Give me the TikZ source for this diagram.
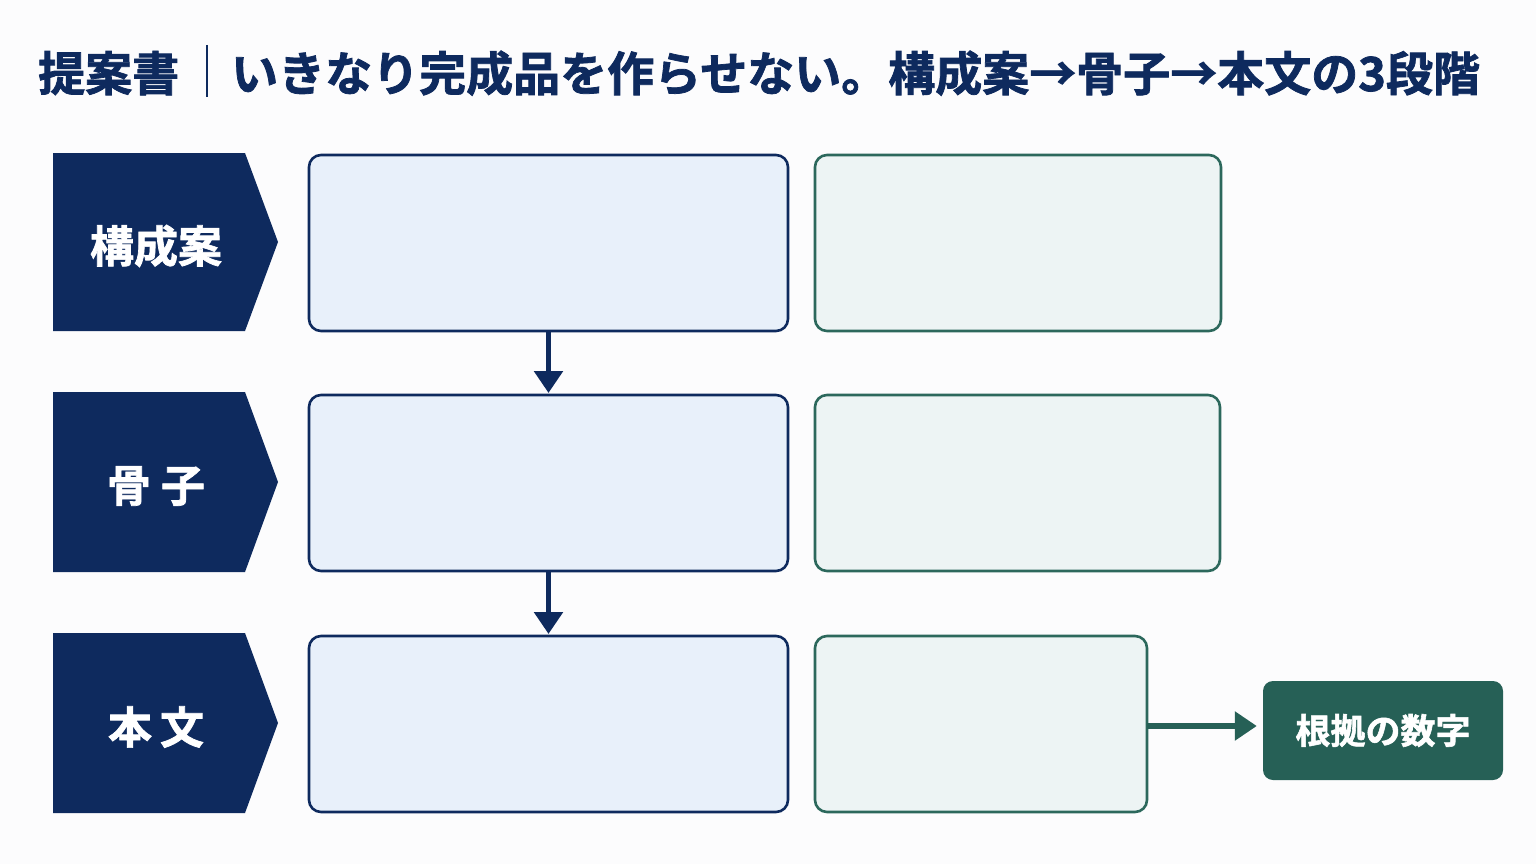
\documentclass[tikz,border=0pt]{standalone}
\usepackage{fontspec}
\setmainfont{Noto Sans CJK JP}
\newfontfamily\jpb[FakeBold=1.6]{Noto Sans CJK JP Bold}
\usetikzlibrary{arrows.meta,positioning}
\definecolor{navy}{RGB}{14,42,94}
\definecolor{bluefill}{RGB}{232,240,250}
\definecolor{tgreen}{RGB}{38,96,86}
\definecolor{greenline}{RGB}{44,104,92}
\definecolor{greenfill}{RGB}{237,244,244}
\definecolor{bg}{RGB}{252,252,253}
\tikzset{
  chev/.style={fill=navy, draw=none},
  bluebox/.style={draw=navy, line width=2.6pt, fill=bluefill, rounded corners=12pt},
  greenbox/.style={draw=greenline, line width=2.6pt, fill=greenfill, rounded corners=12pt},
  chevlabel/.style={text=white, font=\jpb\fontsize{44}{48}\selectfont, anchor=center},
  navyarrow/.style={draw=navy, line width=5.5pt, -{Triangle[length=22pt,width=28pt]}},
  greenarrow/.style={draw=tgreen, line width=5.5pt, -{Triangle[length=22pt,width=28pt]}},
}
\begin{document}
\begin{tikzpicture}[x=1pt,y=-1pt]
\fill[bg] (0,0) rectangle (1536,864);
\useasboundingbox (0,0) rectangle (1536,864);
% title
\node[anchor=base west, inner sep=0pt, text=navy, font=\jpb\fontsize{47}{50}\selectfont] (t1) at (38,91) {提案書};
\draw[navy, line width=2.5pt] (207,45) -- (207,97);
\node[anchor=base west, inner sep=0pt, text=navy, font=\jpb\fontsize{47}{50}\selectfont] (t2) at (231,91) {いきなり完成品を作らせない。構成案→骨子→本文の3段階};
% chevrons
\foreach \n/\yt/\yb in {1/153/331, 2/392/572, 3/633/813}{
  \fill[chev] (53,\yt) -- (245,\yt) -- (278,{(\yt+\yb)/2}) -- (245,\yb) -- (53,\yb) -- cycle;
  \coordinate (c\n) at (156,{(\yt+\yb)/2+4});
}
\node[chevlabel] (l1) at (c1) {構成案};
\node[chevlabel] (l2) at (c2) {骨\hspace{10pt}子};
\node[chevlabel] (l3) at (c3) {本\hspace{8pt}文};
% boxes
\draw[bluebox] (309,155) rectangle (788,331);
\draw[bluebox] (309,395) rectangle (788,571);
\draw[bluebox] (309,636) rectangle (788,812);
\coordinate (b1s) at (548.5,331);
\coordinate (b2n) at (548.5,393);
\coordinate (b2s) at (548.5,571);
\coordinate (b3n) at (548.5,634);
\draw[greenbox] (815,155) rectangle (1221,331);
\draw[greenbox] (815,395) rectangle (1220,571);
\draw[greenbox] (815,636) rectangle (1147,812);
\coordinate (g3e) at (1147,726);
% arrows
\draw[navyarrow] (b1s) -- (b2n);
\draw[navyarrow] (b2s) -- (b3n);
\node[fill=tgreen, rounded corners=10pt, minimum width=240pt, minimum height=99pt, inner sep=0pt, text=white, font=\jpb\fontsize{35}{38}\selectfont] (num) at (1383,730.5) {根拠の数字};
\draw[greenarrow] (g3e) -- ([xshift=-6pt]num.west |- g3e);
\end{tikzpicture}
\end{document}
